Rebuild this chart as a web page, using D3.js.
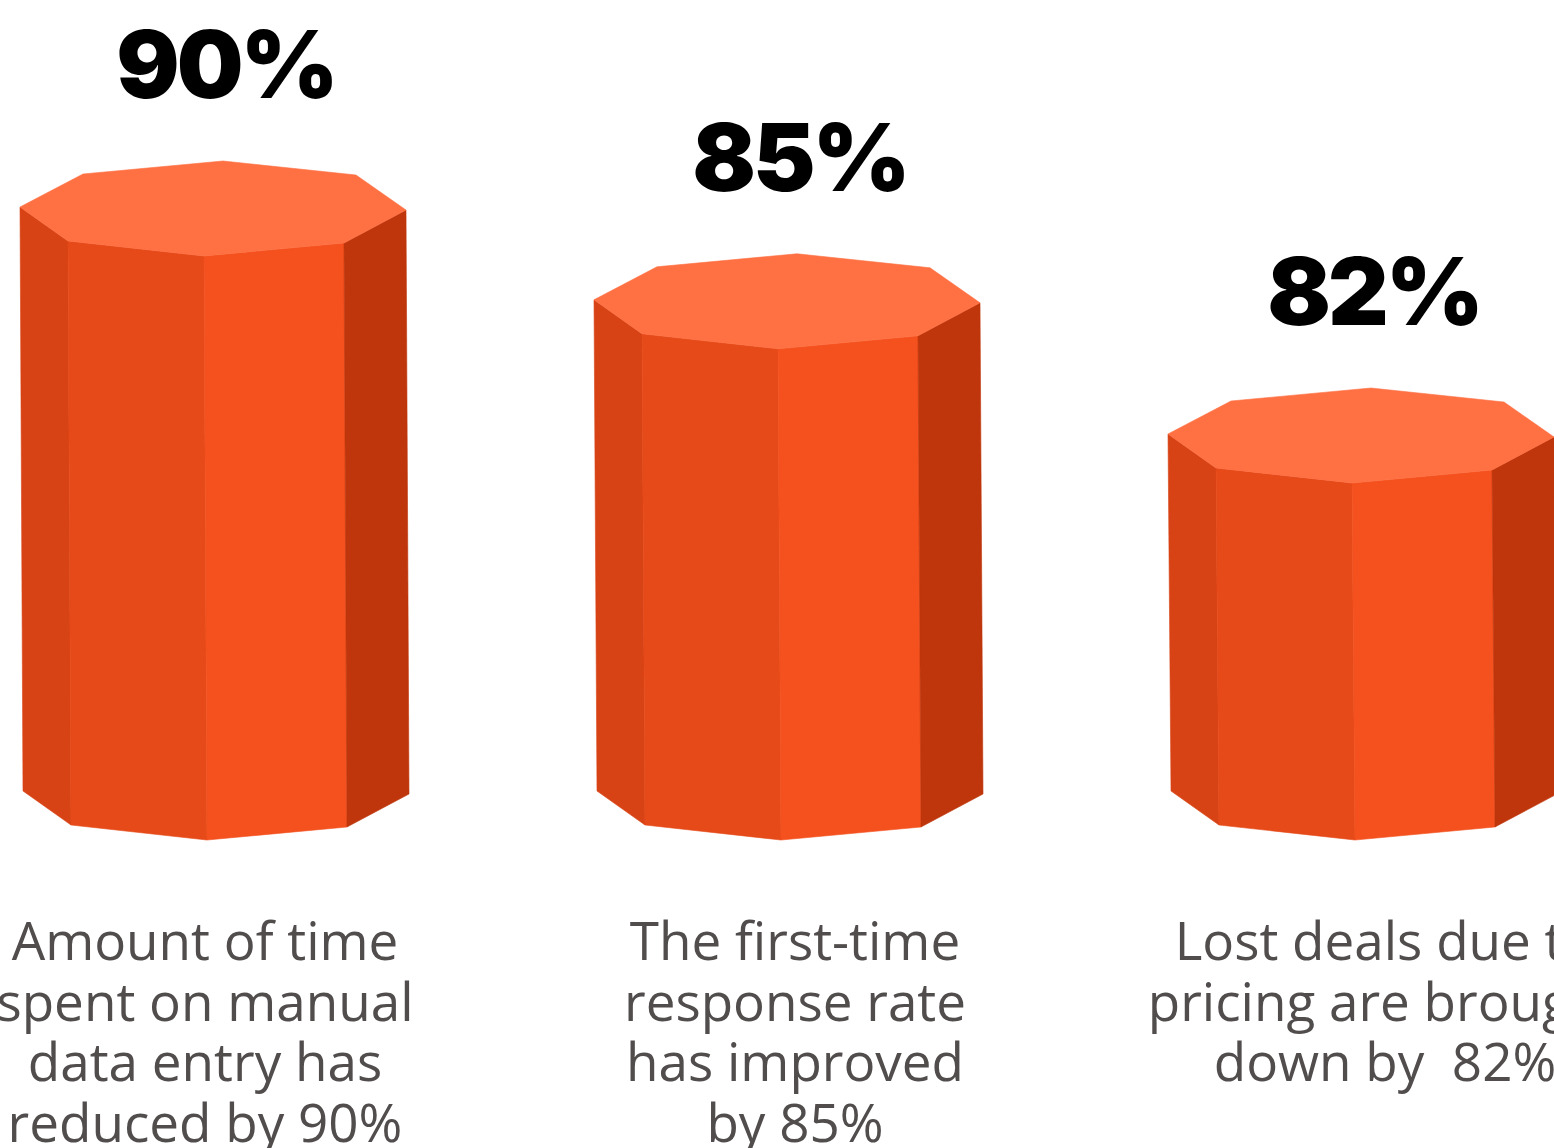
<!DOCTYPE html>
<html>
<head>
<meta charset="utf-8">
<script src="https://cdn.jsdelivr.net/npm/d3@7"></script>
<style>
  html, body { margin: 0; padding: 0; background: #fff; overflow: hidden; }
  svg { display: block; }
</style>
</head>
<body>
<div id="chart"></div>
<script>
// data
var categories = ['time', 'response', 'deals'];
var values = [90, 85, 82];
var valueLabels = ['90%', '85%', '82%'];
var captions = [
  ['Amount of time', 'spent on manual', 'data entry has', 'reduced by 90%'],
  ['The first-time', 'response rate', 'has improved', 'by 85%'],
  ['Lost deals due to', 'pricing are brought', 'down by  82%']
];

var width = 1554, height = 1148;
var svg = d3.select('#chart').append('svg')
  .attr('width', width)
  .attr('height', height);

// x position of each prism (centre of the octagon)
var x = d3.scalePoint().domain(categories).range([213, 1361]);
// caption centres drift a bit from the prisms in the design
var xCap = d3.scalePoint().domain(categories).range([205, 1385]);

// prism height, eased so the small differences read like the original
var h = d3.scalePow().exponent(-18.5).domain([82, 90]).range([357, 584]);

var baseY = 791; // y of the left corner of the bottom face

// octagon in perspective, offsets from the left corner of the top face
var octagon = [
  [-193, 0], [-130, -33], [10, -46], [143, -32],
  [193, 3], [131, 36], [-9, 49], [-145, 34]
];

// visible side faces: [from vertex, to vertex, colour]
var sides = [
  [0, 7, '#D84315'],
  [7, 6, '#E64A19'],
  [6, 5, '#F4511E'],
  [5, 4, '#BF360C']
];

var line = d3.line();

var prisms = svg.selectAll('.prism')
  .data(categories)
  .enter()
  .append('g')
  .attr('class', 'prism');

prisms.each(function(c, i) {
  var g = d3.select(this);
  var cx = x(c);
  var yTop = baseY - h(values[i]);
  var top = octagon.map(function(p) { return [cx + p[0], yTop + p[1]]; });
  var bot = octagon.map(function(p) { return [cx + p[0] + 3, baseY + p[1]]; });

  sides.forEach(function(s) {
    g.append('path')
      .attr('d', line([top[s[0]], top[s[1]], bot[s[1]], bot[s[0]]]) + 'Z')
      .attr('fill', s[2])
      .attr('stroke', s[2])
      .attr('stroke-width', 0.6);
  });

  g.append('path')
    .attr('d', line(top) + 'Z')
    .attr('fill', '#FF7043')
    .attr('stroke', '#FF7043')
    .attr('stroke-width', 0.6);

  // big value on top
  g.append('text')
    .attr('x', cx + 13)
    .attr('y', yTop - 109)
    .attr('text-anchor', 'middle')
    .style('font-family', 'Inter, "Noto Sans", sans-serif')
    .style('font-weight', 900)
    .style('font-size', '94px')
    .style('letter-spacing', '-3px')
    .style('fill', '#000')
    .text(valueLabels[i]);
});

// captions below
var capG = svg.selectAll('.caption')
  .data(categories)
  .enter()
  .append('text')
  .attr('class', 'caption')
  .attr('text-anchor', 'middle')
  .style('font-family', '"Open Sans", "Noto Sans", sans-serif')
  .style('font-size', '53px')
  .style('white-space', 'pre')
  .style('fill', '#514d4d');

capG.selectAll('tspan')
  .data(function(c, i) { return captions[i].map(function(t) { return {t: t, c: c}; }); })
  .enter()
  .append('tspan')
  .attr('x', function(d) { return xCap(d.c); })
  .attr('y', function(d, j) { return 960 + j * 60.5; })
  .text(function(d) { return d.t; });
</script>
</body>
</html>
